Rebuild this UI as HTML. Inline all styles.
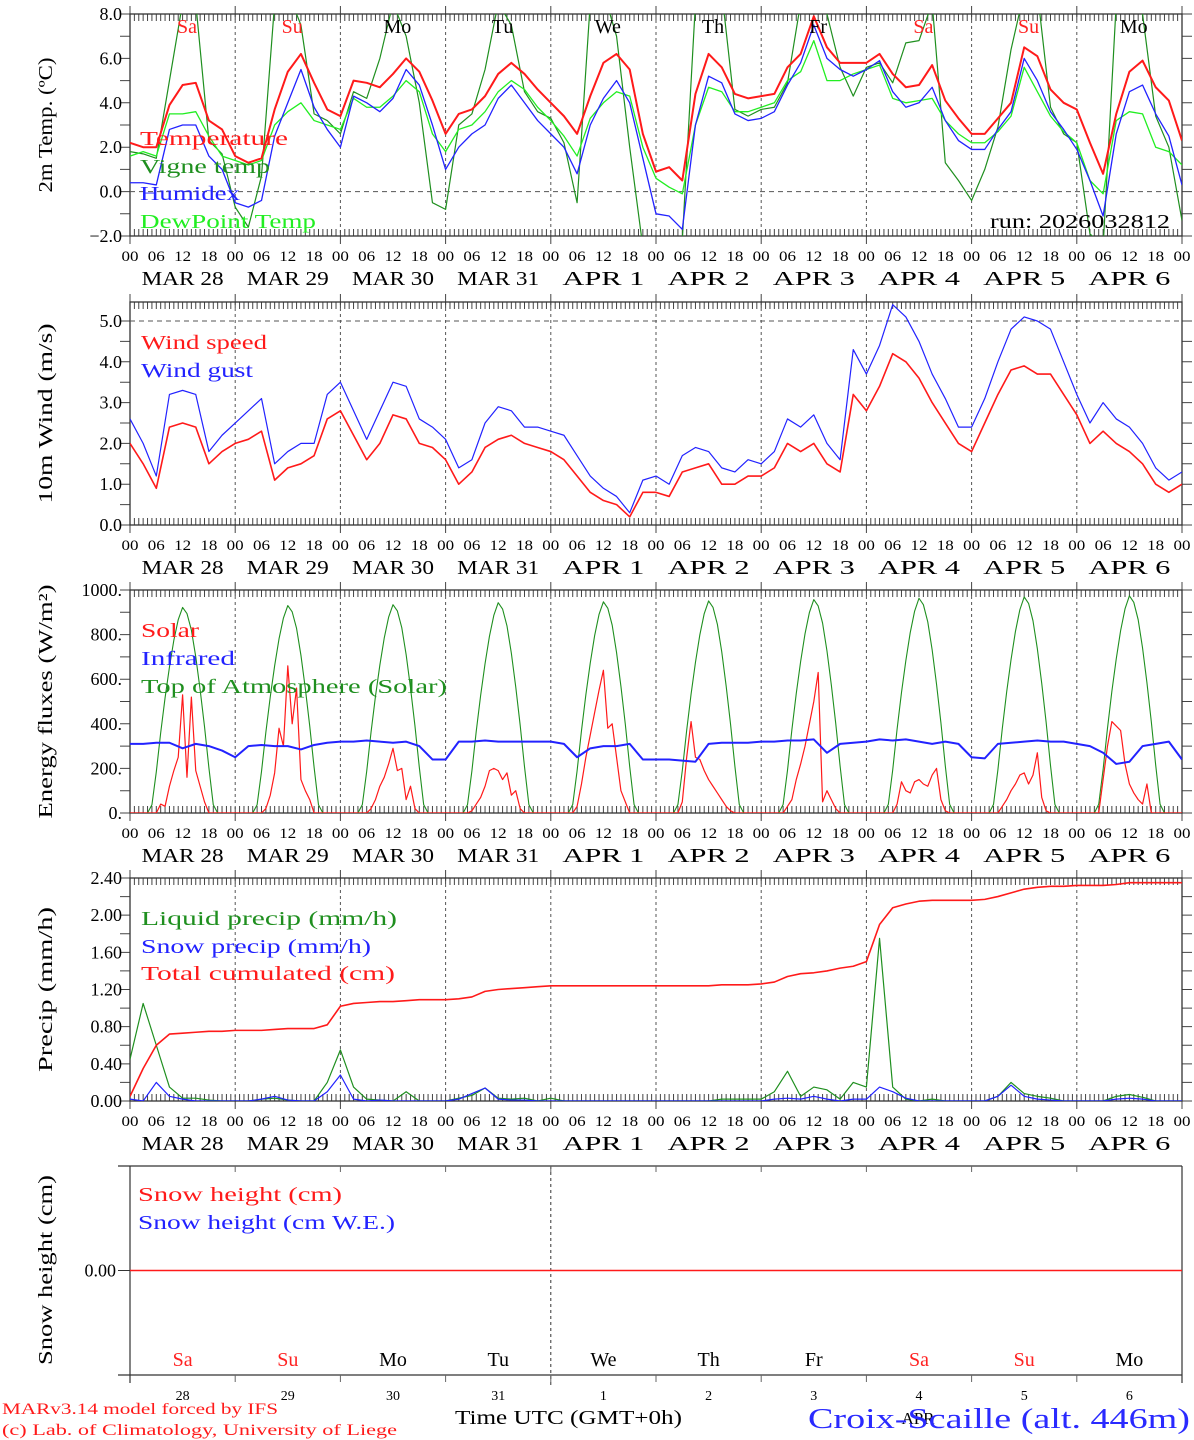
<!DOCTYPE html>
<html><head><meta charset="utf-8"><style>
html,body{margin:0;padding:0;background:#fff;}
svg{display:block;font-family:"Liberation Serif","DejaVu Serif",serif;}
</style></head><body>
<svg id="chart" xmlns="http://www.w3.org/2000/svg" width="1194" height="1440" viewBox="0 0 1194 1440">
<rect x="0" y="0" width="1194" height="1440" fill="#fff"/>
</svg>
<script>
// ===== data =====
const dayNames = ["Sa","Su","Mo","Tu","We","Th","Fr","Sa","Su","Mo"];
const dayColors = ["#f22","#f22","#000","#000","#000","#000","#000","#f22","#f22","#000"];
const dateLabels = ["MAR 28","MAR 29","MAR 30","MAR 31","APR   1","APR   2","APR   3","APR   4","APR   5","APR   6"];
const dayNums = ["28","29","30","31","1","2","3","4","5","6"];
const hourLabels = ["00","06","12","18"];
// 3-hourly temperature series (deg C), 81 values
const tempVals = [2.2,2.0,2.0,3.9,4.8,4.9,3.2,2.8, 1.6,1.3,1.5,3.7,5.4,6.2,4.9,3.7, 3.4,5.0,4.9,4.7,5.3,6.0,5.4,4.1, 2.6,3.5,3.7,4.3,5.3,5.8,5.3,4.6, 4.0,3.4,2.6,4.3,5.8,6.2,5.5,2.6, 0.9,1.1,0.5,4.4,6.2,5.6,4.4,4.2, 4.3,4.4,5.6,6.2,7.9,6.5,5.8,5.8, 5.8,6.2,5.3,4.7,4.8,5.7,4.1,3.3, 2.6,2.6,3.3,4.0,6.5,6.1,4.6,4.0, 3.7,2.2,0.8,3.5,5.4,5.9,4.7,4.1,2.3];
const vigneVals = [1.8,1.7,1.5,5.0,8.5,8.5,2.3,1.7, -0.7,-1.6,0.7,8.5,9,7.5,3.5,3.2, 2.6,4.5,4.2,6,8.5,7,4.0,-0.5, -0.8,3.0,3.5,5.5,8.5,7.5,4.5,3.6, 3.3,2.2,-0.5,8.5,9,7,2.0,-2.5, -2.5,-2.5,-2.2,8.5,9,9,3.7,3.4, 3.7,3.8,4.9,8.5,9,8,5.6,4.3, 5.6,5.8,4.9,6.7,6.8,8.5,1.3,0.5, -0.4,1.0,2.9,6.4,9,9,3.8,2.6, 2.2,-1.9,-2.5,8.5,9,8,3.4,2.0,-1.3];
const humidexVals = [0.4,0.4,0.3,2.8,3.0,3.0,1.6,1.0, -0.5,-0.7,-0.4,2.5,4.0,5.5,3.8,2.8, 2.0,4.3,4.0,3.6,4.2,5.5,4.8,3.0, 1.0,2.0,2.6,3.0,4.2,4.8,4.0,3.2, 2.6,2.0,0.8,3.0,4.2,5.0,4.0,1.5, -1.0,-1.1,-1.7,3.0,5.2,4.9,3.5,3.2, 3.3,3.6,4.8,5.8,7.5,6.0,5.5,5.2, 5.5,5.9,4.5,3.8,4.0,4.7,3.2,2.3, 1.9,1.9,2.8,3.6,6.0,5.0,3.6,2.8, 1.9,0.5,-1.1,2.6,4.5,4.8,3.5,2.5,0.3];
const dewVals = [1.6,1.8,1.6,3.5,3.5,3.6,2.5,1.6, 1.4,1.2,1.4,3.0,3.6,4.0,3.2,3.0, 2.8,4.2,3.8,3.8,4.3,5.0,4.5,2.6, 1.8,2.8,3.0,3.6,4.5,5.0,4.6,3.8, 3.2,2.5,1.6,3.3,4.0,4.5,4.3,2.0, 0.6,0.2,-0.1,3.0,4.7,4.5,3.6,3.6, 3.8,4.0,5.0,5.4,6.8,5.0,5.0,5.3, 5.5,5.7,4.2,4.0,4.1,4.2,3.2,2.6, 2.2,2.2,2.7,3.4,5.6,4.5,3.4,2.7, 2.2,0.5,-0.1,3.2,3.6,3.5,2.0,1.8,1.2];
// wind (m/s) 3-hourly
const windSpeed = [2.0,1.5,0.9,2.4,2.5,2.4,1.5,1.8, 2.0,2.1,2.3,1.1,1.4,1.5,1.7,2.6, 2.8,2.2,1.6,2.0,2.7,2.6,2.0,1.9, 1.6,1.0,1.3,1.9,2.1,2.2,2.0,1.9, 1.8,1.6,1.2,0.8,0.6,0.5,0.2,0.8, 0.8,0.7,1.3,1.4,1.5,1.0,1.0,1.2, 1.2,1.4,2.0,1.8,2.0,1.5,1.3,3.2, 2.8,3.4,4.2,4.0,3.6,3.0,2.5,2.0, 1.8,2.5,3.2,3.8,3.9,3.7,3.7,3.2, 2.7,2.0,2.3,2.0,1.8,1.5,1.0,0.8,1.0];
const windGust = [2.6,2.0,1.2,3.2,3.3,3.2,1.8,2.2, 2.5,2.8,3.1,1.5,1.8,2.0,2.0,3.2, 3.5,2.8,2.1,2.8,3.5,3.4,2.6,2.4, 2.1,1.4,1.6,2.5,2.9,2.8,2.4,2.4, 2.3,2.2,1.7,1.2,0.9,0.7,0.3,1.1, 1.2,1.0,1.7,1.9,1.8,1.4,1.3,1.6, 1.5,1.8,2.6,2.4,2.7,2.0,1.6,4.3, 3.7,4.4,5.4,5.1,4.5,3.7,3.1,2.4, 2.4,3.1,4.0,4.8,5.1,5.0,4.8,4.0, 3.2,2.5,3.0,2.6,2.4,2.0,1.4,1.1,1.3];
// solar (W/m2) hourly, hours 06..18 for each day
const solarDays = [
 [0,40,30,120,190,250,530,160,520,190,120,50,0],
 [0,20,80,180,380,300,660,400,560,150,100,60,0],
 [0,20,60,120,160,220,290,190,200,60,120,20,0],
 [10,40,70,120,190,200,190,150,180,80,100,20,0],
 [30,130,250,350,450,550,640,380,400,250,100,50,0],
 [50,250,410,250,240,190,150,120,90,60,30,10,0],
 [30,60,150,220,300,400,500,630,50,100,60,20,0],
 [0,40,140,100,90,140,150,130,120,170,200,60,10],
 [0,30,60,100,130,170,180,130,170,270,70,10,0],
 [150,300,410,390,370,220,130,90,60,40,130,0,0]
];
// infrared (W/m2) 3-hourly
const infraredVals = [310,310,315,315,290,310,300,280, 250,300,305,300,300,285,305,315, 320,320,325,320,315,320,300,240, 240,320,320,325,320,320,320,320, 320,310,250,290,300,300,310,240, 240,240,235,230,310,315,315,315, 320,320,325,325,330,270,310,315, 320,330,325,330,320,310,320,310, 250,245,310,315,320,325,320,320, 310,300,270,220,230,300,310,320,240];
// top of atmosphere: daily peak and hourly shape (fraction, hours 0..24)
const toaPeaks = [922,930,934,943,947,951,957,963,969,974];
const toaShape = [0,0,0,0,0,0.04,0.2,0.39,0.56,0.71,0.84,0.94,1.0,0.97,0.89,0.76,0.6,0.42,0.22,0.04,0,0,0,0,0];
// precipitation 3-hourly
const liquidPrecip = [0.45,1.05,0.6,0.15,0.03,0.03,0.01,0, 0,0,0.02,0.03,0.01,0,0,0.2, 0.55,0.15,0.02,0.01,0,0.1,0,0, 0,0.03,0.06,0.14,0.03,0.02,0.03,0, 0.03,0,0,0,0,0,0,0, 0,0,0,0,0,0.02,0.02,0.02, 0.02,0.1,0.32,0.05,0.15,0.12,0.02,0.2, 0.15,1.75,0.15,0.02,0,0.02,0,0, 0,0,0.05,0.2,0.08,0.05,0.03,0, 0,0,0,0.05,0.07,0.04,0,0,0];
const snowPrecip = [0.02,0,0.2,0.05,0.02,0,0,0, 0,0,0.02,0.05,0.01,0,0,0.1, 0.28,0.02,0,0.01,0,0,0,0, 0,0.02,0.08,0.14,0.02,0.01,0.01,0, 0,0,0,0,0,0,0,0, 0,0,0,0,0,0,0,0, 0,0.02,0.03,0.02,0.05,0.02,0,0.02, 0.02,0.15,0.1,0.03,0,0,0,0, 0,0,0.05,0.17,0.05,0.02,0.01,0, 0,0,0,0.02,0.03,0.02,0,0,0];
const totalCum = [0.05,0.35,0.6,0.72,0.73,0.74,0.75,0.75, 0.76,0.76,0.76,0.77,0.78,0.78,0.78,0.82, 1.02,1.05,1.06,1.07,1.07,1.08,1.09,1.09, 1.09,1.10,1.12,1.18,1.20,1.21,1.22,1.23, 1.24,1.24,1.24,1.24,1.24,1.24,1.24,1.24, 1.24,1.24,1.24,1.24,1.24,1.25,1.25,1.25, 1.26,1.28,1.34,1.37,1.38,1.40,1.43,1.45, 1.50,1.90,2.08,2.12,2.15,2.16,2.16,2.16, 2.16,2.17,2.20,2.24,2.28,2.30,2.31,2.31, 2.32,2.32,2.32,2.33,2.35,2.35,2.35,2.35,2.35];
const snowHeight = [0,0,0,0,0,0,0,0,0,0,0];
const tempTicks = ["8.0","6.0","4.0","2.0","0.0","\u22122.0"];
const windTicks = ["0.0","1.0","2.0","3.0","4.0","5.0"];
const energyTicks = ["0.","200.","400.","600.","800.","1000."];
const precipTicks = ["0.00","0.40","0.80","1.20","1.60","2.00","2.40"];

// ===== drawing =====
const NS = "http://www.w3.org/2000/svg";
const svg = document.getElementById("chart");
const X0 = 130, X1 = 1182, HRS = 240;
function X(h){ return X0 + h * (X1 - X0) / HRS; }
function mk(tag, attrs, parent){
  const e = document.createElementNS(NS, tag);
  for (const k in attrs) e.setAttribute(k, attrs[k]);
  (parent || svg).appendChild(e);
  return e;
}
function txt(x, y, s, size, color, anchor, tl, parent){
  const t = mk("text", {x:x, y:y, "font-size":size, fill:color, "text-anchor":anchor||"start"}, parent);
  if (tl) { t.setAttribute("textLength", tl); t.setAttribute("lengthAdjust", "spacingAndGlyphs"); }
  t.setAttribute("xml:space","preserve");
  t.textContent = s;
  return t;
}
const panels = [
  {top:14, bot:236, min:-2, max:8, title:"2m Temp. (\u00baC)", tlen:135, ticks:tempTicks, tickVals:[8,6,4,2,0,-2], minorStep:1},
  {top:302, bot:525, min:0, max:5.466, title:"10m Wind (m/s)", tlen:180, ticks:windTicks, tickVals:[0,1,2,3,4,5], minorStep:0.5},
  {top:590, bot:813, min:0, max:1000, title:"Energy fluxes (W/m\u00b2)", tlen:234, ticks:energyTicks, tickVals:[0,200,400,600,800,1000], minorStep:100},
  {top:878, bot:1101, min:0, max:2.4, title:"Precip (mm/h)", tlen:165, ticks:precipTicks, tickVals:[0,0.4,0.8,1.2,1.6,2.0,2.4], minorStep:0.2}
];
function Yf(p){ return v => p.bot - (v - p.min) * (p.bot - p.top) / (p.max - p.min); }

panels.forEach((p, pi) => {
  const g = mk("g", {});
  
  
  const Y = Yf(p);
  const cp = mk("clipPath", {id:"clip"+pi}, g);
  mk("rect", {x:X0, y:p.top, width:X1-X0, height:p.bot-p.top}, cp);
  for (let d = 1; d < 10; d++) {
    const l = mk("line", {x1:X(d*24), x2:X(d*24), y1:p.top, y2:p.bot, stroke:"#555", "stroke-width":1, "stroke-dasharray":"3,3"}, g);
    
    
  }
  let dT = "";
  for (let h = 0; h <= HRS; h++) {
    const big = h % 24 === 0;
    const len = big ? 14 : 7;
    dT += `M${X(h)},${p.top - (big?8:0)}v${len}M${X(h)},${p.bot + (big?8:0)}v${-len}`;
  }
  mk("path", {d:dT, stroke:"#444", "stroke-width":1, fill:"none"}, g);
  let dY = "";
  for (let v = p.min; v <= p.max + 1e-6; v += p.minorStep) {
    const y = Y(v);
    dY += `M${X0-10},${y}H${X0}M${X1},${y}H${X1+10}`;
  }
  mk("path", {d:dY, stroke:"#444", "stroke-width":1}, g);
  const fr = mk("rect", {x:X0, y:p.top, width:X1-X0, height:p.bot-p.top, fill:"none", stroke:"#333", "stroke-width":1.3}, g);
  
  
  p.ticks.forEach((s, i) => {
    const t = txt(X0 - 8, Y(p.tickVals[i]) + 6, s, 18, "#000", "end", null, g);
    
    
  });
  const cy = (p.top + p.bot) / 2;
  const yt = txt(0, 0, p.title, 20, "#000", "middle", p.tlen, g);
  yt.setAttribute("transform", `translate(52,${cy}) rotate(-90)`);
  
  
  for (let d = 0; d < 10; d++) {
    hourLabels.forEach((s, k) => {
      const t = txt(X(d*24 + k*6), p.bot + 25, s, 15, "#000", "middle", 17, g);
      
      
    });
    const dl = txt(X(d*24 + 12), p.bot + 49, dateLabels[d], 20, "#000", "middle", 82, g);
    
    
  }
  const l0 = txt(X1, p.bot + 25, "00", 15, "#000", "middle", 17, g);
  
  
  p.g = g; p.Y = Y; p.idx = pi;
});

function series(p, vals, step, color, width, name){
  const pts = vals.map((v, i) => `${X(i*step).toFixed(2)},${p.Y(v).toFixed(2)}`);
  const e = mk("polyline", {points:pts.join(" "), fill:"none", stroke:color, "stroke-width":width, "clip-path":`url(#clip${p.idx})`, "stroke-linejoin":"round"}, p.g);
  
  
  return e;
}
function legend(p, x, y, s, color, tl){
  const t = txt(x, y, s, 20, color, "start", tl, p.g);
  
  
}

const P1 = panels[0];
mk("line", {x1:X0, x2:X1, y1:P1.Y(0), y2:P1.Y(0), stroke:"#555", "stroke-dasharray":"5,4"}, P1.g);
series(P1, vigneVals, 3, "#1f8f1f", 1.2, "vigne-temp-line");
series(P1, dewVals, 3, "#22ee22", 1.3, "dewpoint-line");
series(P1, humidexVals, 3, "#2222ff", 1.3, "humidex-line");
series(P1, tempVals, 3, "#ff1a1a", 2, "temperature-line");
dayNames.forEach((s, d) => {
  const t = txt(X(d*24 + 13), 33, s, 20, dayColors[d], "middle", null, P1.g);
  
  
});
legend(P1, 140, 145, "Temperature", "#ff1a1a", 148);
legend(P1, 140, 173, "Vigne temp", "#1f8f1f", 130);
legend(P1, 140, 200, "Humidex", "#2222ff", 100);
legend(P1, 140, 228, "DewPoint Temp", "#22ee22", 176);
const run = txt(990, 228, "run: 2026032812", 20, "#000", "start", 180, P1.g);



const P2 = panels[1];
mk("line", {x1:X0, x2:X1, y1:P2.Y(5), y2:P2.Y(5), stroke:"#555", "stroke-dasharray":"5,4"}, P2.g);
series(P2, windGust, 3, "#2222ff", 1.2, "wind-gust-line");
series(P2, windSpeed, 3, "#ff1a1a", 1.6, "wind-speed-line");
legend(P2, 141, 349, "Wind speed", "#ff1a1a", 126);
legend(P2, 141, 377, "Wind gust", "#2222ff", 112);

const P3 = panels[2];
const toaVals = [];
for (let d = 0; d < 10; d++) for (let h = 0; h < 24; h++) toaVals.push(toaPeaks[d] * toaShape[h]);
toaVals.push(0);
const solarVals = [];
for (let d = 0; d < 10; d++) for (let h = 0; h < 24; h++) solarVals.push(h >= 6 && h <= 18 ? solarDays[d][h-6] : 0);
solarVals.push(0);
series(P3, toaVals, 1, "#1f8f1f", 1.1, "toa-solar-line");
series(P3, solarVals, 1, "#ff1a1a", 1.2, "solar-line");
series(P3, infraredVals, 3, "#2222ff", 2, "infrared-line");
legend(P3, 141, 637, "Solar", "#ff1a1a", 58);
legend(P3, 141, 665, "Infrared", "#2222ff", 94);
legend(P3, 141, 693, "Top of Atmosphere (Solar)", "#1f8f1f", 306);

const P4 = panels[3];
series(P4, liquidPrecip, 3, "#1f8f1f", 1.2, "liquid-precip-line");
series(P4, snowPrecip, 3, "#2222ff", 1.2, "snow-precip-line");
series(P4, totalCum, 3, "#ff1a1a", 1.6, "total-cumulated-line");
legend(P4, 141, 925, "Liquid precip (mm/h)", "#1f8f1f", 256);
legend(P4, 141, 953, "Snow precip (mm/h)", "#2222ff", 230);
legend(P4, 141, 980, "Total cumulated (cm)", "#ff1a1a", 254);

const P5 = {top:1166, bot:1375, min:-1, max:1, idx:4};
P5.Y = Yf(P5);
P5.g = mk("g", {});


const cp5 = mk("clipPath", {id:"clip4"}, P5.g);
mk("rect", {x:X0, y:P5.top, width:X1-X0, height:P5.bot-P5.top}, cp5);
mk("line", {x1:118, x2:X1, y1:P5.top, y2:P5.top, stroke:"#333", "stroke-width":1.2}, P5.g);
mk("line", {x1:118, x2:X1, y1:P5.bot, y2:P5.bot, stroke:"#333", "stroke-width":1.2}, P5.g);
mk("line", {x1:X0, x2:X0, y1:P5.top, y2:P5.bot+8, stroke:"#333", "stroke-width":1.2}, P5.g);
mk("line", {x1:X1, x2:X1, y1:P5.top, y2:P5.bot+8, stroke:"#333", "stroke-width":1.2}, P5.g);
mk("line", {x1:X(96), x2:X(96), y1:P5.top, y2:P5.bot+12, stroke:"#333", "stroke-dasharray":"3,3"}, P5.g);
let d5 = "";
for (let d = 1; d < 10; d++) d5 += `M${X(d*24)},${P5.top}v6M${X(d*24)},${P5.bot}v7`;
mk("path", {d:d5, stroke:"#666", "stroke-width":1}, P5.g);
mk("line", {x1:118, x2:X0, y1:P5.Y(0), y2:P5.Y(0), stroke:"#333"}, P5.g);
const z5 = txt(X0 - 14, P5.Y(0) + 6, "0.00", 18, "#000", "end", null, P5.g);


const yt5 = txt(0, 0, "Snow height (cm)", 20, "#000", "middle", 190, P5.g);
yt5.setAttribute("transform", `translate(52,1270) rotate(-90)`);


series(P5, snowHeight, 24, "#ff1a1a", 1.5, "snow-height-line");
legend(P5, 138, 1201, "Snow height (cm)", "#ff1a1a", 204);
legend(P5, 138, 1229, "Snow height (cm W.E.)", "#2222ff", 257);
dayNames.forEach((s, d) => {
  const t = txt(X(d*24 + 12), 1366, s, 20, dayColors[d], "middle", null, P5.g);
  
  
  const n = txt(X(d*24 + 12), 1400, dayNums[d], 14, "#000", "middle", null, P5.g);
  
  
});

const f1 = txt(2, 1414, "MARv3.14 model forced by IFS", 16, "#ff1a1a", "start", 276);


const f2 = txt(2, 1435, "(c) Lab. of Climatology, University of Liege", 16, "#ff1a1a", "start", 395);


const xt = txt(455, 1424, "Time UTC (GMT+0h)", 20, "#000", "start", 227);


const apr = txt(918, 1424, "APR", 17, "#000", "middle", null);


const st = txt(808, 1428, "Croix-Scaille (alt. 446m)", 28, "#2a2aff", "start", 382);


</script>
</body></html>
